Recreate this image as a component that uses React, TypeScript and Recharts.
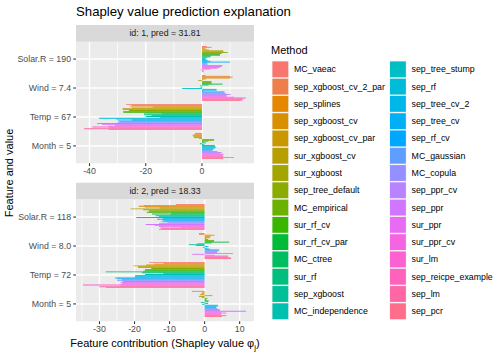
import React from "react";
import { BarChart, Bar, XAxis, YAxis, CartesianGrid } from "recharts";

const FONT = "'Liberation Sans', Arial, Helvetica, sans-serif";

const METHODS = [
  "MC_vaeac", "sep_xgboost_cv_2_par", "sep_splines", "sep_xgboost_cv", "sep_xgboost_cv_par",
  "sur_xgboost_cv", "sur_xgboost", "sep_tree_default", "MC_empirical", "sur_rf_cv",
  "sur_rf_cv_par", "MC_ctree", "sur_rf", "sep_xgboost", "MC_independence",
  "sep_tree_stump", "sep_rf", "sep_tree_cv_2", "sep_tree_cv", "sep_rf_cv",
  "MC_gaussian", "MC_copula", "sep_ppr_cv", "sep_ppr", "sur_ppr",
  "sur_ppr_cv", "sur_lm", "sep_reicpe_example", "sep_lm", "sep_pcr",
];

const FEATURES_ID1 = ["Solar.R = 190", "Wind = 7.4", "Temp = 67", "Month = 5"];
const FEATURES_ID2 = ["Solar.R = 118", "Wind = 8.0", "Temp = 72", "Month = 5"];

// Shapley values, one entry per method (same order as METHODS)
const id1Solar = [1.7, 3.4, 1.0, 1.5, 2.5, 7.6, 7.6, 9.1, 7.0, 6.4, 6.4, 3.0, 3.0, 1.7, 1.2, 1.5, 2.0, 3.0, 10.0, 2.0, 1.5, 2.0, 7.3, 7.0, 6.4, 5.5, 3.0, -0.4, 0.6, 0.6];
const id1Wind = [1.3, 10.0, 10.9, 10.0, 1.5, 0.5, -1.3, 3.4, 3.4, 3.4, 7.3, 2.3, -0.7, 0.2, -0.5, -7.1, 5.2, 5.2, 0.5, 8.0, 8.0, 8.5, 10.2, 8.8, 8.8, 11.4, 15.6, 14.5, 14.5, 14.0];
const id1Temp = [-27.0, -25.0, -25.5, -17.5, -25.0, -28.2, -28.2, -26.0, -28.0, -28.0, -20.6, -14.3, -20.6, -17.9, -20.0, -15.0, -36.6, -30.5, -25.0, -30.0, -29.3, -30.0, -37.3, -35.6, -31.0, -33.3, -39.0, -33.0, -41.9, -33.3];
const id1Month = [-2.5, -2.5, -3.3, -3.3, -2.9, -2.9, -1.0, 4.3, 4.3, 2.3, 0.5, 1.4, -0.7, 0.8, 4.6, 4.6, 5.0, 4.6, 4.0, 4.0, 3.5, 5.5, 7.0, 6.5, 7.6, 7.6, 7.2, 7.6, 11.4, 7.5];

const id2Solar = [-8.2, -17.4, -18.8, -17.0, -12.8, -21.1, -17.5, -15.9, -15.9, -16.5, -9.5, -15.0, -10.0, -14.0, -13.0, -19.5, -12.0, -13.5, -12.0, -11.7, -12.5, -10.6, -13.0, -16.8, -14.2, -13.0, -6.6, -12.8, -12.4, -13.0];
const id2Wind = [-1.6, -1.6, 2.9, 1.9, 1.5, 1.5, 0.5, 1.0, 2.7, 2.7, 7.0, 2.0, -2.1, -4.5, -2.5, 1.1, -0.5, 0.8, 1.5, 4.1, 4.1, 3.6, 3.6, 8.1, -3.5, 2.9, 6.7, 6.7, 7.4, 7.6];
const id2Temp = [-15.8, -11.7, -14.5, -16.7, -20.3, -19.0, -19.0, -15.2, -17.0, -17.0, -17.5, -28.2, -17.9, -11.8, -17.0, -19.8, -19.8, -20.0, -25.5, -25.0, -23.6, -25.0, -23.4, -24.0, -23.5, -24.0, -34.7, -24.0, -30.1, -28.2];
const id2Month = [-3.6, -0.5, -0.8, -1.0, -1.4, 2.2, -1.6, -0.8, 0.8, 0.5, 0.5, 1.2, 1.0, -1.1, 1.0, -0.7, 3.8, 3.8, 3.3, 3.3, 3.6, 4.3, 4.3, 11.8, 4.8, 6.2, 4.8, 4.6, 6.2, 5.0];

const ID1_TICKS = [-40, -30, -20, -10, 0, 10];
const ID1_MAJOR = [-40, -20, 0];
const ID1_DOMAIN = [-44.8, 18.5];
const ID2_TICKS = [-35, -30, -25, -20, -15, -10, -5, 0, 5, 10];
const ID2_MAJOR = [-30, -20, -10, 0, 10];
const ID2_DOMAIN = [-36.7, 14.1];

// ggplot2 hue palette: hcl(h, c = 100, l = 65)
function hcl(h: number, c: number, l: number): string {
  const hr = (h * Math.PI) / 180;
  const U = c * Math.cos(hr);
  const V = c * Math.sin(hr);
  const Y = 100 * (l > 7.999592 ? Math.pow((l + 16) / 116, 3) : l / 903.3);
  const u = U / (13 * l) + 0.1978398;
  const v = V / (13 * l) + 0.4683363;
  const X = (9 * Y * u) / (4 * v);
  const Z = -X / 3 - 5 * Y + (3 * Y) / v;
  const g = (x: number) => {
    const t = x > 0.00304 ? 1.055 * Math.pow(x, 1 / 2.4) - 0.055 : 12.92 * x;
    return Math.round(Math.min(1, Math.max(0, t)) * 255);
  };
  const r = g((3.240479 * X - 1.53715 * Y - 0.498535 * Z) / 100);
  const gg = g((-0.969256 * X + 1.875992 * Y + 0.041556 * Z) / 100);
  const b = g((0.055648 * X - 0.204043 * Y + 1.057311 * Z) / 100);
  return "#" + [r, gg, b].map((n) => n.toString(16).padStart(2, "0")).join("");
}

const COLORS = METHODS.map((_, i) => hcl(15 + (360 * i) / METHODS.length, 100, 65));

function buildRows(features: string[], cols: number[][]) {
  return features.map((f, fi) => {
    const row: Record<string, any> = { feature: f };
    METHODS.forEach((m, mi) => {
      row[m] = cols[fi][mi];
    });
    return row;
  });
}

const rows1 = buildRows(FEATURES_ID1, [id1Solar, id1Wind, id1Temp, id1Month]);
const rows2 = buildRows(FEATURES_ID2, [id2Solar, id2Wind, id2Temp, id2Month]);

const TICK = 2.74;
const GAP = 2.2;

function Panel({ rows, domain, ticks, major, top }: any) {
  const vLine = (p: any) => {
    if (p.index >= ticks.length) return <g key={p.key} />;
    const isMajor = major.includes(ticks[p.index]);
    return (
      <line key={p.key} x1={p.x1} y1={p.y1} x2={p.x2} y2={p.y2} stroke="#FFFFFF"
        strokeWidth={isMajor ? 1.42 : 0.71} />
    );
  };
  const hLine = (p: any) => {
    if (p.index >= rows.length) return <g key={p.key} />;
    return <line key={p.key} x1={p.x1} y1={p.y1} x2={p.x2} y2={p.y2} stroke="#FFFFFF" strokeWidth={1.42} />;
  };
  const xTick = (p: any) => {
    const v = p.payload.value;
    if (!major.includes(v)) return <g />;
    const y0 = p.y - TICK - GAP;
    return (
      <g>
        <line x1={p.x} x2={p.x} y1={y0} y2={y0 + TICK} stroke="#333333" strokeWidth={1.07} />
        <text x={p.x} y={p.y} dy="0.71em" textAnchor="middle" fontSize={8.8} fill="#4D4D4D" fontFamily={FONT}>
          {String(v)}
        </text>
      </g>
    );
  };
  const yTick = (p: any) => {
    const x0 = p.x + TICK + GAP;
    return (
      <g>
        <line x1={x0 - TICK} x2={x0} y1={p.y} y2={p.y} stroke="#333333" strokeWidth={1.07} />
        <text x={p.x} y={p.y} dominantBaseline="central" textAnchor="end" fontSize={8.8} fill="#4D4D4D" fontFamily={FONT}>
          {p.payload.value}
        </text>
      </g>
    );
  };
  return (
    <div style={{ position: "absolute", left: 0, top }}>
      <BarChart width={262} height={184} data={rows} layout="vertical"
        margin={{ top: 41.7, right: 8, bottom: 0.7, left: 0 }} barCategoryGap="5%" barGap={0}>
        <CartesianGrid fill="#EBEBEB" fillOpacity={1} stroke="#FFFFFF" syncWithTicks
          horizontal={hLine} vertical={vLine} />
        <XAxis type="number" domain={domain} allowDataOverflow ticks={ticks} interval={0}
          height={20} axisLine={false} tickLine={false} tickSize={TICK} tickMargin={GAP} tick={xTick} />
        <YAxis type="category" dataKey="feature" width={76} padding={{ top: 2.9, bottom: 2.9 }}
          axisLine={false} interval={0} tickSize={TICK} tickMargin={GAP} tickLine={false} tick={yTick} />
        {METHODS.map((m, i) => (
          <Bar key={m} dataKey={m} fill={COLORS[i]} isAnimationActive={false} />
        ))}
      </BarChart>
    </div>
  );
}

export default function App() {
  const KEY = 17.28;
  const keyTop = 60.7;
  return (
    <div style={{ position: "absolute", left: 0, top: 0, width: 504, height: 360, background: "#FFFFFF", fontFamily: FONT }}>
      <Panel rows={rows1} domain={ID1_DOMAIN} ticks={ID1_TICKS} major={ID1_MAJOR} top={0} />
      <Panel rows={rows2} domain={ID2_DOMAIN} ticks={ID2_TICKS} major={ID2_MAJOR} top={157.7} />
      <svg width={504} height={360} style={{ position: "absolute", left: 0, top: 0, pointerEvents: "none" }}>
        <text x={76} y={15.5} fontSize={13.2} fill="#000000" fontFamily={FONT}>
          Shapley value prediction explanation
        </text>
        <rect x={76} y={25} width={178} height={16.7} fill="#D9D9D9" />
        <text x={165} y={33.35} dominantBaseline="central" textAnchor="middle" fontSize={8.8} fill="#1A1A1A" fontFamily={FONT}>
          id: 1, pred = 31.81
        </text>
        <rect x={76} y={182.7} width={178} height={16.7} fill="#D9D9D9" />
        <text x={165} y={191.05} dominantBaseline="central" textAnchor="middle" fontSize={8.8} fill="#1A1A1A" fontFamily={FONT}>
          id: 2, pred = 18.33
        </text>
        <text transform="translate(13,173) rotate(-90)" textAnchor="middle" fontSize={11} fill="#000000" fontFamily={FONT}>
          Feature and value
        </text>
        <text x={165} y={347} textAnchor="middle" fontSize={11} fill="#000000" fontFamily={FONT}>
          Feature contribution (Shapley value φ
          <tspan fontSize={8} dy={2.5}>j</tspan>
          <tspan dy={-2.5}>)</tspan>
        </text>
        <text x={271} y={54} fontSize={11} fill="#000000" fontFamily={FONT}>Method</text>
        {METHODS.map((m, i) => {
          const col = i < 15 ? 0 : 1;
          const row = i % 15;
          const kx = col === 0 ? 271.7 : 389.3;
          const ky = keyTop + row * KEY;
          return (
            <g key={m}>
              <rect x={kx} y={ky} width={KEY} height={KEY} fill="#F2F2F2" />
              <rect x={kx + 0.71} y={ky + 0.71} width={KEY - 1.42} height={KEY - 1.42} fill={COLORS[i]} />
              <text x={kx + KEY + 5} y={ky + KEY / 2} dominantBaseline="central" fontSize={8.8} fill="#000000" fontFamily={FONT}>
                {m}
              </text>
            </g>
          );
        })}
      </svg>
    </div>
  );
}
